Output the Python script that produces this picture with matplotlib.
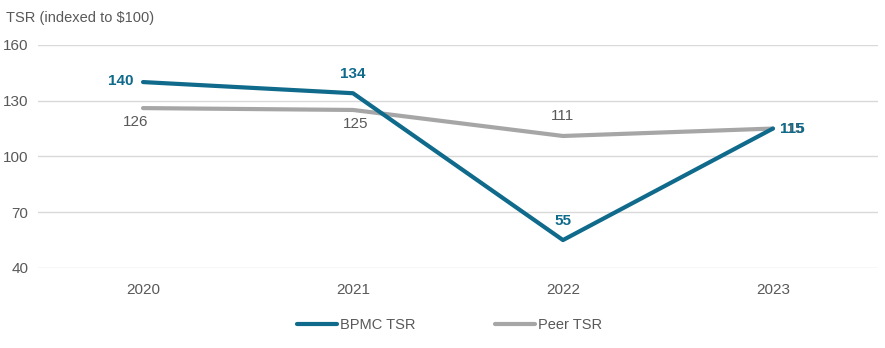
import matplotlib.pyplot as plt

plt.rcParams['font.family'] = ['Liberation Sans', 'DejaVu Sans']

years = ['2020', '2021', '2022', '2023']
bpmc = [140, 134, 55, 115]
peer = [126, 125, 111, 115]

teal = '#0f6a8b'
gray = '#a6a6a6'
txt = '#595959'
fs = 10.5

fig = plt.figure(figsize=(8.85, 3.48), dpi=100)
ax = fig.add_axes([0.043, 0.230, 0.949, 0.641])
x = list(range(len(years)))

ax.plot(x, bpmc, color=teal, lw=3, label='BPMC TSR', solid_capstyle='round', zorder=3)
ax.plot(x, peer, color=gray, lw=3, label='Peer TSR', solid_capstyle='round', zorder=2)

ax.set_xlim(-0.5, 3.5)
ax.set_ylim(40, 160)
ax.set_yticks([40, 70, 100, 130, 160])
ax.set_xticks(x)
ax.set_xticklabels(years)
ax.grid(axis='y', color='#d9d9d9', lw=1)
ax.set_axisbelow(True)
for s in ax.spines.values():
    s.set_visible(False)
ax.tick_params(length=0, labelsize=fs + 0.5, colors=txt, pad=11)
ax.tick_params(axis='y', pad=7)

# data labels
boff = [(-7, 1, 'right', 'center'), (0, 9, 'center', 'bottom'), (0, 9, 'center', 'bottom'), (5, 0, 'left', 'center')]
poff = [(-5, -5, 'center', 'top'), (2, -5, 'center', 'top'), (0, 9, 'center', 'bottom'), (5, 0, 'left', 'center')]
for i in x:
    dx, dy, ha, va = poff[i]
    ax.annotate(str(peer[i]), (i, peer[i]), xytext=(dx, dy), textcoords='offset points',
                ha=ha, va=va, fontsize=fs + 0.5, color=txt)
for i in x:
    dx, dy, ha, va = boff[i]
    ax.annotate(str(bpmc[i]), (i, bpmc[i]), xytext=(dx, dy), textcoords='offset points',
                ha=ha, va=va, fontsize=fs + 0.5, color=teal, fontweight='bold')

fig.text(0.007, 0.948, 'TSR (indexed to $100)', fontsize=fs, color=txt, va='center')

leg = fig.legend(loc='center', bbox_to_anchor=(0.508, 0.065), ncol=2, frameon=False,
                 fontsize=fs, handlelength=2.7, handletextpad=0.2, columnspacing=5.5)
for t in leg.get_texts():
    t.set_color(txt)

fig.savefig('out.png', dpi=100)
